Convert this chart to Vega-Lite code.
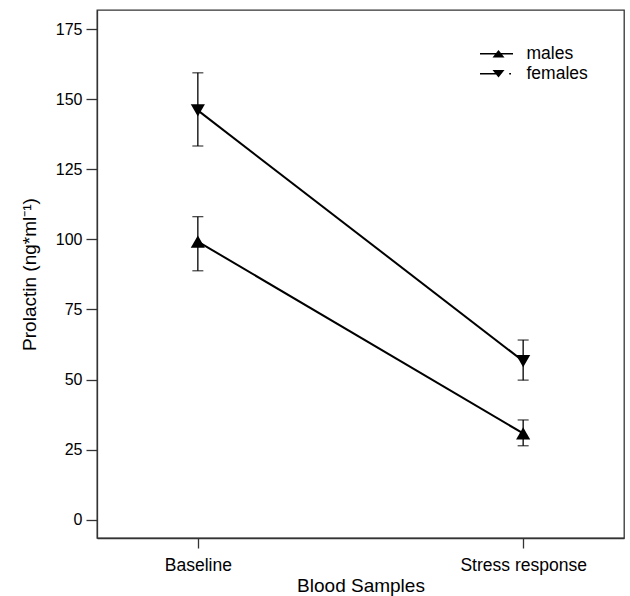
{
  "$schema": "https://vega.github.io/schema/vega-lite/v6.json",
  "autosize": {"type": "none"},
  "width": 527,
  "height": 528,
  "padding": {"left": 97, "top": 10, "right": 6, "bottom": 58},
  "background": "white",
  "config": {
    "view": {"stroke": "#333", "strokeWidth": 1.3},
    "font": "Liberation Sans",
    "axis": {
      "grid": false,
      "domainColor": "#333",
      "domainWidth": 1.3,
      "tickColor": "#333",
      "tickWidth": 1.3,
      "labelColor": "black",
      "titleColor": "black",
      "labelFont": "Liberation Sans",
      "titleFont": "Liberation Sans",
      "titleFontWeight": "normal"
    }
  },
  "data": {
    "values": [
      {"sample": "Baseline", "sex": "males", "mean": 99.2, "lo": 88.8, "hi": 108.1},
      {"sample": "Stress response", "sex": "males", "mean": 30.8, "lo": 26.4, "hi": 35.6},
      {"sample": "Baseline", "sex": "females", "mean": 146.0, "lo": 133.3, "hi": 159.4},
      {"sample": "Stress response", "sex": "females", "mean": 56.6, "lo": 49.8, "hi": 64.1}
    ]
  },
  "encoding": {
    "x": {
      "field": "sample",
      "type": "nominal",
      "sort": ["Baseline", "Stress response"],
      "scale": {"type": "point", "padding": 0.31},
      "axis": {
        "title": "Blood Samples",
        "labelAngle": 0,
        "labelFontSize": 17.5,
        "titleFontSize": 19,
        "tickSize": 10,
        "labelPadding": 8,
        "titlePadding": 3
      }
    }
  },
  "resolve": {"scale": {"shape": "independent"}, "legend": {"shape": "independent"}},
  "layer": [
    {
      "mark": {"type": "line", "color": "black", "strokeWidth": 2},
      "encoding": {
        "y": {
          "field": "mean",
          "type": "quantitative",
          "scale": {"domain": [-6.5, 181.8], "nice": false, "zero": false},
          "axis": {
            "title": "Prolactin (ng*ml⁻¹)",
            "values": [0, 25, 50, 75, 100, 125, 150, 175],
            "labelFontSize": 16,
            "titleFontSize": 19,
            "tickSize": 11,
            "labelPadding": 4,
            "titlePadding": 16
          }
        },
        "detail": {"field": "sex"}
      }
    },
    {
      "mark": {"type": "rule", "color": "black", "strokeWidth": 1.3},
      "encoding": {
        "y": {"field": "lo", "type": "quantitative"},
        "y2": {"field": "hi"}
      }
    },
    {
      "mark": {"type": "tick", "color": "black", "size": 11, "thickness": 1.3},
      "encoding": {"y": {"field": "lo", "type": "quantitative"}}
    },
    {
      "mark": {"type": "tick", "color": "black", "size": 11, "thickness": 1.3},
      "encoding": {"y": {"field": "hi", "type": "quantitative"}}
    },
    {
      "mark": {"type": "point", "filled": true, "size": 200, "color": "black", "opacity": 1},
      "encoding": {
        "y": {"field": "mean", "type": "quantitative"},
        "shape": {
          "field": "sex",
          "type": "nominal",
          "scale": {"domain": ["males", "females"], "range": ["triangle-up", "triangle-down"]},
          "legend": null
        }
      }
    },
    {
      "transform": [{"filter": "datum.mean > 1000"}],
      "mark": {"type": "point", "filled": true, "color": "black", "opacity": 1},
      "encoding": {
        "y": {"field": "mean", "type": "quantitative"},
        "shape": {
          "field": "sex",
          "type": "nominal",
          "scale": {
            "domain": ["males", "females"],
            "range": [
              "M-1.65,-0.08H1.65V0.08H-1.65ZM-0.4,0.38L0.2,-0.38L0.8,0.38Z",
              "M-1.65,-0.08H0.2V0.08H-1.65ZM-0.4,-0.38L0.8,-0.38L0.2,0.38ZM1.27,-0.08H1.45V0.08H1.27Z"
            ]
          },
          "legend": {
            "title": null,
            "orient": "none",
            "legendX": 388.5,
            "legendY": 32.7,
            "padding": 0,
            "rowPadding": 0,
            "symbolSize": 400,
            "symbolFillColor": "black",
            "labelFontSize": 17.5,
            "labelFont": "Liberation Sans",
            "labelColor": "black",
            "labelOffset": 19
          }
        }
      }
    }
  ]
}
